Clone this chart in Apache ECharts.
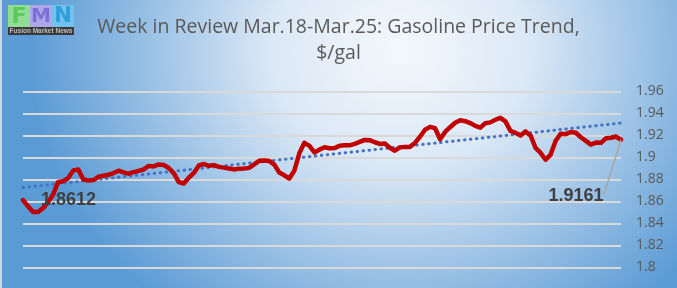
<!DOCTYPE html>
<html>
<head>
<meta charset="utf-8">
<script src="https://cdn.jsdelivr.net/npm/echarts@6/dist/echarts.min.js"></script>
<style>
  html, body { margin: 0; padding: 0; }
  #chart {
    width: 677px; height: 288px;
    background: radial-gradient(ellipse 370px 330px at 400px 50px, #f4f8fc 0%, #dbe8f6 35%, #5b9bd5 100%);
  }
</style>
</head>
<body>
<div id="chart"></div>
<script>
// ---- data ----
const titleText = 'Week in Review Mar.18-Mar.25: Gasoline Price Trend,\n$/gal';
const yTicks = [1.8, 1.82, 1.84, 1.86, 1.88, 1.9, 1.92, 1.94, 1.96];
const prices = [
  1.8612, 1.8555, 1.8503, 1.8503, 1.8539, 1.8593, 1.8663, 1.8777, 1.8784, 1.8812,
  1.8882, 1.8890, 1.8800, 1.8790, 1.8794, 1.8824, 1.8834, 1.8842, 1.8858, 1.8879,
  1.8864, 1.8852, 1.8866, 1.8878, 1.8890, 1.8923, 1.8918, 1.8936, 1.8932, 1.8904,
  1.8857, 1.8776, 1.8763, 1.8816, 1.8859, 1.8927, 1.8940, 1.8924, 1.8930, 1.8914,
  1.8907, 1.8899, 1.8891, 1.8898, 1.8900, 1.8905, 1.8937, 1.8969, 1.8972, 1.8968,
  1.8935, 1.8862, 1.8837, 1.8808, 1.8880, 1.9040, 1.9133, 1.9105, 1.9045, 1.9071,
  1.9093, 1.9083, 1.9085, 1.9106, 1.9110, 1.9110, 1.9124, 1.9141, 1.9159, 1.9157,
  1.9138, 1.9123, 1.9126, 1.9088, 1.9061, 1.9091, 1.9096, 1.9096, 1.9132, 1.9188,
  1.9252, 1.9278, 1.9266, 1.9165, 1.9232, 1.9275, 1.9316, 1.9338, 1.9330, 1.9313,
  1.9287, 1.9271, 1.9311, 1.9319, 1.9343, 1.9360, 1.9328, 1.9242, 1.9224, 1.9200,
  1.9237, 1.9200, 1.9086, 1.9041, 1.8979, 1.9026, 1.9152, 1.9216, 1.9212, 1.9231,
  1.9224, 1.9184, 1.9151, 1.9117, 1.9135, 1.9133, 1.9174, 1.9179, 1.9190, 1.9161
];
const categories = prices.map((_, i) => String(i + 1));

// linear trend (least squares) of the price series
function trend(vals) {
  const n = vals.length;
  let sx = 0, sy = 0, sxx = 0, sxy = 0;
  vals.forEach((v, i) => { sx += i; sy += v; sxx += i * i; sxy += i * v; });
  const b = (n * sxy - sx * sy) / (n * sxx - sx * sx);
  const a = (sy - b * sx) / n;
  return vals.map((_, i) => a + b * i);
}
const trendValues = trend(prices);

const lastIdx = prices.length - 1;
const lastLabelShift = -45;
const priceData = prices.map((v, i) => {
  if (i === 0) {
    return { value: v, label: { show: true, position: 'right', distance: 18 } };
  }
  if (i === lastIdx) {
    return {
      value: v,
      label: { show: true, position: 'bottom', distance: 47 },
      labelLine: { show: true, length2: 0 }
    };
  }
  return v;
});

const chart = echarts.init(document.getElementById('chart'), null, { renderer: 'canvas' });
chart.setOption({
  backgroundColor: 'transparent',
  animation: false,
  title: {
    text: titleText,
    left: 'center',
    top: 9,
    textStyle: {
      fontFamily: 'Open Sans', fontSize: 19.5, fontWeight: 'normal',
      color: '#595959', lineHeight: 26
    }
  },
  graphic: [
    { type: 'rect', shape: { x: 0, y: 0, width: 2, height: 288 }, style: { fill: '#cdd8e5' } },
    { type: 'rect', shape: { x: 8, y: 5, width: 22, height: 22 }, style: { fill: '#93dc93' } },
    { type: 'rect', shape: { x: 30, y: 5, width: 22, height: 22 }, style: { fill: '#ada7ea' } },
    { type: 'rect', shape: { x: 52, y: 5, width: 22, height: 22 }, style: { fill: '#73c2ee' } },
    { type: 'text', x: 19, y: 17, style: { text: 'F', fill: '#5cc95c', font: 'bold 22px "DejaVu Sans"', align: 'center', verticalAlign: 'middle' } },
    { type: 'text', x: 41, y: 17, style: { text: 'M', fill: '#7d6fd8', font: 'bold 20px "DejaVu Sans"', align: 'center', verticalAlign: 'middle' } },
    { type: 'text', x: 63, y: 17, style: { text: 'N', fill: '#2f9fdb', font: 'bold 21px "DejaVu Sans"', align: 'center', verticalAlign: 'middle' } },
    { type: 'rect', shape: { x: 8, y: 27, width: 66, height: 8 }, style: { fill: '#3a3a3a' } },
    { type: 'text', x: 41, y: 31.5, style: { text: 'Fusion Market News', fill: '#bdbdbd', font: 'bold 6.5px "Liberation Sans"', align: 'center', verticalAlign: 'middle' } }
  ],
  grid: { left: 23, right: 56, top: 91.5, bottom: 20.7, containLabel: false },
  xAxis: {
    type: 'category',
    data: categories,
    boundaryGap: false,
    axisLine: { show: false },
    axisTick: { show: false },
    axisLabel: { show: false },
    splitLine: { show: false }
  },
  yAxis: {
    type: 'value',
    position: 'right',
    min: yTicks[0],
    max: yTicks[yTicks.length - 1],
    interval: 0.02,
    axisLine: { show: false },
    axisTick: { show: false },
    axisLabel: {
      margin: 15, color: '#595959', fontFamily: 'Open Sans', fontSize: 14,
      formatter: v => String(+v.toFixed(2))
    },
    splitLine: { show: true, lineStyle: { color: '#d9d9d9', width: 2 } }
  },
  series: [
    {
      name: 'Trend',
      type: 'line',
      data: trendValues,
      showSymbol: false,
      silent: true,
      z: 3,
      lineStyle: { color: '#4472c4', width: 3, type: [0.5, 5.5], cap: 'round' }
    },
    {
      name: 'Gasoline',
      type: 'line',
      data: priceData,
      symbol: 'circle',
      symbolSize: 0.1,
      showSymbol: true,
      z: 4,
      itemStyle: { color: 'rgba(192,0,0,0)' },
      lineStyle: { color: '#c00000', width: 4.5, join: 'round', cap: 'round' },
      label: {
        color: '#404040', fontFamily: 'Liberation Sans', fontWeight: 'bold', fontSize: 18,
        formatter: p => p.value.toFixed(4)
      },
      labelLine: { show: false, lineStyle: { color: '#a6a6a6', width: 1.5 } },
      labelLayout: p => {
        if (p.dataIndex !== lastIdx) return {};
        const r = p.rect, l = p.labelRect;
        return {
          dx: lastLabelShift,
          labelLinePoints: [
            [r.x + r.width / 2, r.y + r.height / 2],
            [l.x + l.width / 2 + lastLabelShift + 2, l.y - 7]
          ]
        };
      }
    }
  ]
});
</script>
</body>
</html>
